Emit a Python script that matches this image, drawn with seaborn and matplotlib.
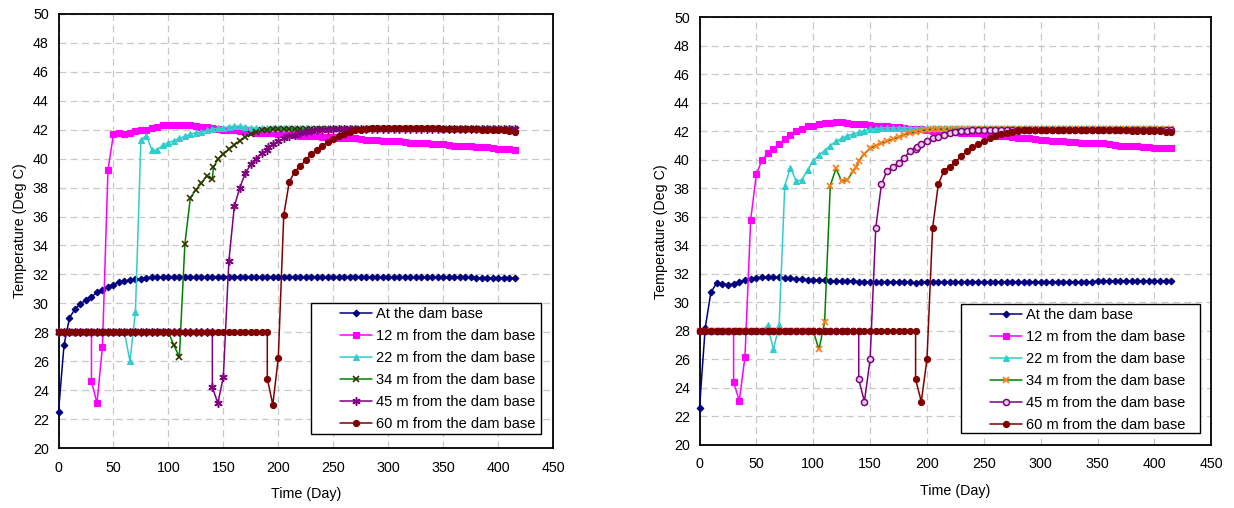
import matplotlib
matplotlib.use("Agg")
import matplotlib.pyplot as plt
from matplotlib.patches import Rectangle
import seaborn as sns
import pandas as pd

# ---------------- data ----------------
DAYS = list(range(0, 420, 5))  # 0 .. 415

SERIES_NAMES = ["At the dam base", "12 m from the dam base", "22 m from the dam base",
                "34 m from the dam base", "45 m from the dam base", "60 m from the dam base"]

X_TICKS = [0, 50, 100, 150, 200, 250, 300, 350, 400, 450]
Y_TICKS = [20, 22, 24, 26, 28, 30, 32, 34, 36, 38, 40, 42, 44, 46, 48, 50]

# ----- left chart -----
L_BASE = [22.5, 27.1, 29.0, 29.6, 29.95, 30.25, 30.45, 30.75, 30.95, 31.15,
          31.3, 31.45, 31.55, 31.6, 31.65, 31.7, 31.75, 31.8, 31.8, 31.85,
          31.85, 31.85, 31.85, 31.85, 31.85, 31.85, 31.85, 31.85, 31.85, 31.85,
          31.85, 31.85, 31.85, 31.85, 31.85, 31.85, 31.85, 31.85, 31.85, 31.85,
          31.85, 31.85, 31.85, 31.85, 31.85, 31.85, 31.85, 31.85, 31.85, 31.85,
          31.85, 31.85, 31.85, 31.85, 31.85, 31.85, 31.8, 31.8, 31.8, 31.8,
          31.8, 31.8, 31.8, 31.8, 31.8, 31.8, 31.8, 31.8, 31.8, 31.8,
          31.8, 31.8, 31.8, 31.8, 31.8, 31.8, 31.75, 31.75, 31.75, 31.75,
          31.75, 31.75, 31.75, 31.75]
L_12 = [28.0, 28.0, 28.0, 28.0, 28.0, 28.0, 24.6, 23.1, 27.0, 39.2,
        41.7, 41.8, 41.7, 41.8, 41.9, 42.0, 42.0, 42.1, 42.2, 42.3,
        42.3, 42.3, 42.3, 42.3, 42.3, 42.25, 42.2, 42.2, 42.1, 42.05,
        42.0, 42.0, 41.95, 41.9, 41.9, 41.85, 41.8, 41.8, 41.8, 41.75,
        41.7, 41.7, 41.7, 41.65, 41.6, 41.6, 41.6, 41.55, 41.5, 41.5,
        41.5, 41.45, 41.45, 41.4, 41.4, 41.35, 41.3, 41.3, 41.3, 41.25,
        41.2, 41.2, 41.2, 41.15, 41.1, 41.1, 41.1, 41.05, 41.0, 41.0,
        41.0, 40.95, 40.9, 40.9, 40.9, 40.85, 40.8, 40.8, 40.8, 40.75,
        40.7, 40.7, 40.65, 40.6]
L_22 = [28.0, 28.0, 28.0, 28.0, 28.0, 28.0, 28.0, 28.0, 28.0, 28.0,
        28.0, 28.0, 28.0, 26.0, 29.4, 41.3, 41.6, 40.6, 40.6, 40.95,
        41.1, 41.25, 41.4, 41.55, 41.7, 41.8, 41.85, 41.95, 42.05, 42.1,
        42.15, 42.2, 42.25, 42.25, 42.2, 42.15, 42.1, 42.1, 42.1, 42.1,
        42.1, 42.1, 42.1, 42.1, 42.1, 42.1, 42.1, 42.1, 42.1, 42.1,
        42.1, 42.1, 42.1, 42.1, 42.1, 42.1, 42.1, 42.1, 42.1, 42.1,
        42.1, 42.1, 42.1, 42.1, 42.1, 42.1, 42.1, 42.1, 42.1, 42.1,
        42.1, 42.1, 42.1, 42.1, 42.1, 42.1, 42.1, 42.1, 42.1, 42.1,
        42.05, 42.05, 42.05, 42.05]
L_34 = [28.0, 28.0, 28.0, 28.0, 28.0, 28.0, 28.0, 28.0, 28.0, 28.0,
        28.0, 28.0, 28.0, 28.0, 28.0, 28.0, 28.0, 28.0, 28.0, 28.0,
        28.0, 27.1, 26.3, 34.1, 37.3, 37.85, 38.3, 38.8, 38.6, 39.95,
        40.3, 40.65, 40.95, 41.25, 41.5, 41.7, 41.85, 41.95, 42.0, 42.05,
        42.05, 42.05, 42.05, 42.05, 42.05, 42.05, 42.05, 42.05, 42.05, 42.05,
        42.05, 42.05, 42.05, 42.05, 42.05, 42.05, 42.05, 42.05, 42.05, 42.05,
        42.05, 42.05, 42.05, 42.05, 42.05, 42.05, 42.05, 42.05, 42.05, 42.05,
        42.05, 42.05, 42.05, 42.05, 42.05, 42.05, 42.05, 42.05, 42.05, 42.05,
        42.05, 42.05, 42.05, 42.05]
L_45 = [28.0, 28.0, 28.0, 28.0, 28.0, 28.0, 28.0, 28.0, 28.0, 28.0,
        28.0, 28.0, 28.0, 28.0, 28.0, 28.0, 28.0, 28.0, 28.0, 28.0,
        28.0, 28.0, 28.0, 28.0, 28.0, 28.0, 28.0, 28.0, 24.2, 23.1,
        24.9, 32.9, 36.7, 38.0, 39.0, 39.6, 40.0, 40.4, 40.6, 41.0,
        41.2, 41.4, 41.55, 41.65, 41.75, 41.85, 41.9, 41.95, 42.0, 42.0,
        42.05, 42.05, 42.05, 42.05, 42.05, 42.05, 42.05, 42.05, 42.05, 42.05,
        42.05, 42.05, 42.05, 42.05, 42.05, 42.05, 42.05, 42.05, 42.05, 42.05,
        42.05, 42.05, 42.05, 42.05, 42.05, 42.05, 42.05, 42.05, 42.05, 42.05,
        42.05, 42.05, 42.05, 42.05]
L_60 = [28.0, 28.0, 28.0, 28.0, 28.0, 28.0, 28.0, 28.0, 28.0, 28.0,
        28.0, 28.0, 28.0, 28.0, 28.0, 28.0, 28.0, 28.0, 28.0, 28.0,
        28.0, 28.0, 28.0, 28.0, 28.0, 28.0, 28.0, 28.0, 28.0, 28.0,
        28.0, 28.0, 28.0, 28.0, 28.0, 28.0, 28.0, 28.0, 24.8, 23.0,
        26.2, 36.1, 38.4, 39.1, 39.5, 39.9, 40.3, 40.6, 40.9, 41.15,
        41.35, 41.55, 41.7, 41.85, 41.95, 42.0, 42.05, 42.1, 42.1, 42.1,
        42.1, 42.1, 42.1, 42.1, 42.1, 42.1, 42.1, 42.1, 42.1, 42.1,
        42.05, 42.05, 42.05, 42.05, 42.05, 42.05, 42.05, 42.0, 42.0, 42.0,
        42.0, 41.95, 41.9, 41.85]
# placement: a 28 deg point at the same day precedes the dropped value
L_PLACE = {1: 30, 4: 140, 5: 190}
# additional readings between the 5-day steps
L_EXTRA = {3: [(141, 39.4)], 4: [(191, 40.8)]}

# ----- right chart -----
R_BASE = [22.6, 28.2, 30.7, 31.35, 31.3, 31.25, 31.3, 31.45, 31.55, 31.65,
          31.7, 31.75, 31.75, 31.75, 31.75, 31.7, 31.7, 31.65, 31.65, 31.6,
          31.6, 31.55, 31.55, 31.5, 31.5, 31.5, 31.5, 31.5, 31.45, 31.45,
          31.45, 31.45, 31.45, 31.45, 31.45, 31.45, 31.45, 31.45, 31.35, 31.45,
          31.45, 31.45, 31.45, 31.45, 31.45, 31.45, 31.45, 31.45, 31.45, 31.45,
          31.45, 31.45, 31.45, 31.45, 31.45, 31.45, 31.45, 31.45, 31.45, 31.45,
          31.45, 31.45, 31.45, 31.45, 31.45, 31.45, 31.45, 31.45, 31.45, 31.45,
          31.5, 31.5, 31.5, 31.5, 31.5, 31.5, 31.5, 31.5, 31.5, 31.5,
          31.5, 31.5, 31.5, 31.5]
R_12 = [28.0, 28.0, 28.0, 28.0, 28.0, 28.0, 24.4, 23.1, 26.2, 35.8,
        39.0, 40.0, 40.45, 40.75, 41.1, 41.45, 41.75, 42.0, 42.15, 42.35,
        42.4, 42.5, 42.6, 42.6, 42.65, 42.65, 42.6, 42.55, 42.55, 42.5,
        42.45, 42.4, 42.35, 42.35, 42.3, 42.3, 42.25, 42.2, 42.2, 42.15,
        42.1, 42.05, 42.05, 42.0, 42.0, 41.95, 41.9, 41.9, 41.85, 41.85,
        41.8, 41.75, 41.7, 41.7, 41.65, 41.6, 41.55, 41.5, 41.5, 41.45,
        41.4, 41.4, 41.35, 41.3, 41.3, 41.25, 41.25, 41.2, 41.2, 41.2,
        41.15, 41.15, 41.1, 41.05, 41.0, 41.0, 40.95, 40.95, 40.9, 40.9,
        40.85, 40.85, 40.8, 40.8]
R_22 = [28.0, 28.0, 28.0, 28.0, 28.0, 28.0, 28.0, 28.0, 28.0, 28.0,
        28.0, 28.0, 28.4, 26.7, 28.4, 38.2, 39.45, 38.5, 38.6, 39.3,
        39.9, 40.35, 40.65, 41.0, 41.3, 41.5, 41.7, 41.8, 41.95, 42.05,
        42.15, 42.2, 42.25, 42.25, 42.25, 42.25, 42.25, 42.25, 42.25, 42.25,
        42.25, 42.25, 42.25, 42.25, 42.25, 42.25, 42.25, 42.25, 42.25, 42.25,
        42.25, 42.25, 42.25, 42.25, 42.25, 42.25, 42.25, 42.25, 42.25, 42.25,
        42.25, 42.25, 42.25, 42.25, 42.25, 42.25, 42.25, 42.25, 42.25, 42.25,
        42.25, 42.25, 42.25, 42.25, 42.25, 42.25, 42.25, 42.25, 42.25, 42.25,
        42.25, 42.2, 42.2, 42.2]
R_34 = [28.0, 28.0, 28.0, 28.0, 28.0, 28.0, 28.0, 28.0, 28.0, 28.0,
        28.0, 28.0, 28.0, 28.0, 28.0, 28.0, 28.0, 28.0, 28.0, 28.0,
        28.0, 26.7, 28.6, 38.2, 39.4, 38.5, 38.6, 39.2, 39.95, 40.4,
        40.8, 41.0, 41.15, 41.3, 41.45, 41.6, 41.75, 41.85, 41.95, 42.05,
        42.1, 42.15, 42.15, 42.15, 42.15, 42.15, 42.15, 42.15, 42.15, 42.15,
        42.15, 42.15, 42.15, 42.15, 42.15, 42.15, 42.15, 42.15, 42.15, 42.15,
        42.15, 42.15, 42.15, 42.15, 42.15, 42.15, 42.15, 42.15, 42.15, 42.15,
        42.15, 42.15, 42.15, 42.15, 42.15, 42.15, 42.15, 42.15, 42.15, 42.15,
        42.15, 42.15, 42.15, 42.15]
R_45 = [28.0, 28.0, 28.0, 28.0, 28.0, 28.0, 28.0, 28.0, 28.0, 28.0,
        28.0, 28.0, 28.0, 28.0, 28.0, 28.0, 28.0, 28.0, 28.0, 28.0,
        28.0, 28.0, 28.0, 28.0, 28.0, 28.0, 28.0, 28.0, 24.6, 23.05,
        26.0, 35.25, 38.3, 39.25, 39.5, 39.8, 40.15, 40.6, 40.75, 41.1,
        41.35, 41.5, 41.6, 41.75, 41.85, 41.95, 42.0, 42.05, 42.1, 42.1,
        42.1, 42.1, 42.1, 42.1, 42.1, 42.1, 42.1, 42.1, 42.1, 42.1,
        42.1, 42.1, 42.1, 42.1, 42.1, 42.1, 42.1, 42.1, 42.1, 42.1,
        42.1, 42.1, 42.1, 42.1, 42.1, 42.1, 42.1, 42.1, 42.1, 42.1,
        42.1, 42.1, 42.1, 42.1]
R_60 = [28.0, 28.0, 28.0, 28.0, 28.0, 28.0, 28.0, 28.0, 28.0, 28.0,
        28.0, 28.0, 28.0, 28.0, 28.0, 28.0, 28.0, 28.0, 28.0, 28.0,
        28.0, 28.0, 28.0, 28.0, 28.0, 28.0, 28.0, 28.0, 28.0, 28.0,
        28.0, 28.0, 28.0, 28.0, 28.0, 28.0, 28.0, 28.0, 24.6, 23.05,
        26.0, 35.25, 38.3, 39.25, 39.5, 39.85, 40.25, 40.6, 40.9, 41.1,
        41.35, 41.5, 41.65, 41.8, 41.9, 41.95, 42.05, 42.1, 42.1, 42.1,
        42.1, 42.1, 42.1, 42.1, 42.1, 42.1, 42.1, 42.1, 42.1, 42.1,
        42.1, 42.1, 42.1, 42.1, 42.1, 42.1, 42.05, 42.05, 42.05, 42.05,
        42.0, 42.0, 41.95, 41.95]
R_PLACE = {1: 30, 4: 140, 5: 190}
R_EXTRA = {3: [(138, 39.5)], 4: [(191, 40.9)]}

PLACEMENT_TEMP = 28.0

# ---------------- styles ----------------
LEFT_STYLES = [
    dict(color="#000080", marker="D", markersize=3.4, mfc="#000080", mec="#000080", mew=0.8),
    dict(color="#FF00FF", marker="s", markersize=4.6, mfc="#FF00FF", mec="#FF00FF", mew=0.8),
    dict(color="#33CCCC", marker="^", markersize=5.0, mfc="#33CCCC", mec="#33CCCC", mew=0.8),
    dict(color="#008000", marker="x", markersize=4.6, mfc="#333300", mec="#333300", mew=1.2),
    dict(color="#800080", marker=(6, 2, 0), markersize=6.0, mfc="#800080", mec="#800080", mew=1.1),
    dict(color="#800000", marker="o", markersize=4.4, mfc="#800000", mec="#800000", mew=0.8),
]
RIGHT_STYLES = [
    dict(color="#000080", marker="D", markersize=3.4, mfc="#000080", mec="#000080", mew=0.8),
    dict(color="#FF00FF", marker="s", markersize=4.6, mfc="#FF00FF", mec="#FF00FF", mew=0.8),
    dict(color="#33CCCC", marker="^", markersize=5.0, mfc="#33CCCC", mec="#33CCCC", mew=0.8),
    dict(color="#008000", marker="x", markersize=5.0, mfc="#FF7F1F", mec="#FF7F1F", mew=1.3),
    dict(color="#800080", marker="o", markersize=4.4, mfc="#E8D0E8", mec="#800080", mew=1.1),
    dict(color="#800000", marker="o", markersize=4.4, mfc="#800000", mec="#800000", mew=0.8),
]

sns.set_style("white")
plt.rcParams["font.family"] = ["Liberation Sans", "DejaVu Sans"]
plt.rcParams["axes.unicode_minus"] = False

W, H = 1234, 508
fig = plt.figure(figsize=(W / 100, H / 100), dpi=100)


def px_axes(x0, y0, x1, y1):
    return fig.add_axes([x0 / W, 1 - y1 / H, (x1 - x0) / W, (y1 - y0) / H])


def build(values, idx, place, extra):
    pts = list(zip(DAYS, values))
    if idx in place:
        d = place[idx]
        k = DAYS.index(d)
        pts.insert(k, (d, PLACEMENT_TEMP))
    for e in extra.get(idx, []):
        pts.append(e)
    pts = sorted(pts, key=lambda p: p[0])  # stable: placement point stays first
    return pd.DataFrame(pts, columns=["Time (Day)", "Temperature (Deg C)"])


def draw_panel(ax, series, styles, place, extra, legend_box):
    for i, (vals, name, st) in enumerate(zip(series, SERIES_NAMES, styles)):
        df = build(vals, i, place, extra)
        sns.lineplot(data=df, x="Time (Day)", y="Temperature (Deg C)", ax=ax,
                     sort=False, estimator=None, label=name,
                     color=st["color"], marker=st["marker"], markersize=st["markersize"],
                     markerfacecolor=st["mfc"], markeredgecolor=st["mec"],
                     markeredgewidth=st["mew"], linewidth=1.1, zorder=3 + i * 0.1,
                     clip_on=False)
    ax.set_xlim(X_TICKS[0], X_TICKS[-1])
    ax.set_ylim(Y_TICKS[0], Y_TICKS[-1])
    ax.set_xticks(X_TICKS)
    ax.set_yticks(Y_TICKS)
    ax.set_xticklabels([str(t) for t in X_TICKS])
    ax.set_yticklabels([str(t) for t in Y_TICKS])
    ax.grid(True, color="#C8C8C8", linestyle=(0, (5.5, 3.5)), linewidth=0.9)
    ax.set_axisbelow(True)
    for s in ax.spines.values():
        s.set_color("black")
        s.set_linewidth(1.3)
        s.set_visible(True)
    ax.tick_params(axis="both", direction="out", length=4, width=1, color="black",
                   labelsize=10.3, labelcolor="black", pad=3)
    ax.tick_params(axis="x", pad=5)
    ax.set_xlabel("Time (Day)", fontsize=10.3, color="black", labelpad=9)
    ax.set_ylabel("Temperature (Deg C)", fontsize=10.3, color="black", labelpad=4)
    # legend frame + legend
    bx0, by0, bx1, by1 = legend_box
    pos = ax.get_position()
    fx0 = (bx0 / W - pos.x0) / pos.width
    fx1 = (bx1 / W - pos.x0) / pos.width
    fy0 = ((1 - by1 / H) - pos.y0) / pos.height
    fy1 = ((1 - by0 / H) - pos.y0) / pos.height
    ax.add_patch(Rectangle((fx0, fy0), fx1 - fx0, fy1 - fy0, transform=ax.transAxes,
                           facecolor="white", edgecolor="black", linewidth=1.0, zorder=5))
    lx = fx0 + 26 / (pos.width * W)
    leg = ax.legend(loc="upper left", bbox_to_anchor=(lx, fy1 - 1 / (pos.height * H)),
                    frameon=False, fontsize=10.5, handlelength=2.2, handletextpad=0.25,
                    labelspacing=0.55, borderpad=0.2, borderaxespad=0)
    leg.set_zorder(6)
    for t in leg.get_texts():
        t.set_color("black")


axL = px_axes(58.5, 14, 553, 448)
axR = px_axes(699.5, 17.3, 1211.3, 445)

draw_panel(axL, [L_BASE, L_12, L_22, L_34, L_45, L_60], LEFT_STYLES, L_PLACE, L_EXTRA,
           (311, 303, 541, 434))
draw_panel(axR, [R_BASE, R_12, R_22, R_34, R_45, R_60], RIGHT_STYLES, R_PLACE, R_EXTRA,
           (961, 304, 1200, 433))

fig.savefig("out.png", dpi=100, facecolor="white")
